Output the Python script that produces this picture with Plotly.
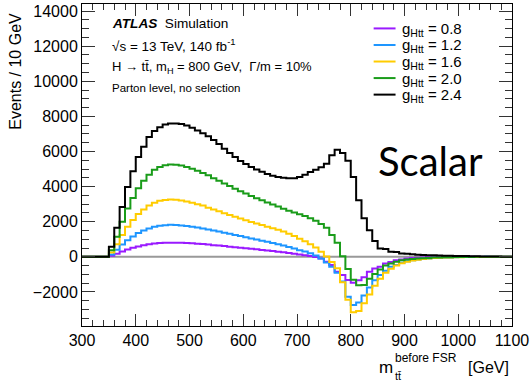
import numpy as np
import plotly.graph_objects as go

# 10 GeV bins from 300 to 1100 GeV (lower edges)
bin_low = list(range(300, 1100, 10))

couplings = ["0.8", "1.2", "1.6", "2.0", "2.4"]
colors = ["#9a1aff", "#1e96ff", "#ffcc00", "#1a9c1a", "#000000"]

events_g08 = [
    0, 0, 0, 0, 0,
    55, 175, 310, 420, 510,
    590, 660, 720, 760, 785,
    800, 805, 805, 800, 790,
    770, 750, 725, 700, 665,
    640, 610, 575, 545, 515,
    485, 455, 425, 395, 365,
    330, 295, 260, 220, 180,
    135, 90, 45, -15, -90,
    -280, -470, -850, -1040, -1320,
    -1480, -1330, -1170, -850, -660,
    -570, -380, -290, -190, -150,
    -90, -70, -55, -40, -30,
    -22, -16, -12, -8, -6,
    -4, -3, -2, -1, 0,
    0, 0, 0, 0, 0,
]
events_g12 = [
    0, 0, 0, 0, 0,
    130, 400, 700, 950, 1160,
    1350, 1500, 1620, 1710, 1770,
    1800, 1820, 1810, 1790, 1760,
    1720, 1670, 1620, 1560, 1500,
    1440, 1375, 1310, 1245, 1180,
    1115, 1050, 985, 920, 855,
    785, 715, 640, 560, 470,
    380, 300, 200, 80, -90,
    -330, -560, -900, -1400, -2270,
    -2750, -2600, -2200, -1750, -1330,
    -1040, -790, -570, -460, -340,
    -250, -190, -150, -115, -90,
    -70, -55, -42, -32, -24,
    -17, -12, -8, -5, -3,
    -2, -1, 0, 0, 0,
]
events_g16 = [
    0, 0, 0, 0, 0,
    240, 720, 1250, 1720, 2100,
    2440, 2700, 2920, 3080, 3190,
    3240, 3260, 3250, 3210, 3150,
    3080, 3000, 2920, 2800, 2700,
    2590, 2480, 2380, 2280, 2180,
    2080, 1990, 1900, 1810, 1720,
    1630, 1540, 1440, 1320, 1180,
    1030, 880, 720, 530, 290,
    20, -300, -650, -1450, -2450,
    -3150, -3080, -2650, -2150, -1650,
    -1250, -900, -680, -500, -370,
    -280, -210, -160, -120, -90,
    -70, -55, -42, -32, -24,
    -18, -13, -9, -6, -4,
    -3, -2, -1, 0, 0,
]
events_g20 = [
    0, 0, 0, 0, 0,
    380, 1150, 2000, 2750, 3350,
    3900, 4330, 4680, 4960, 5110,
    5210, 5260, 5250, 5200, 5120,
    5020, 4900, 4780, 4640, 4480,
    4330, 4180, 4030, 3880, 3740,
    3600, 3470, 3340, 3220, 3100,
    2980, 2860, 2740, 2630, 2520,
    2420, 2320, 2200, 2060, 1870,
    1650, 1250, 800, 30, -700,
    -1300, -1620, -1600, -1250, -980,
    -720, -500, -380, -280, -200,
    -150, -130, -100, -80, -60,
    -45, -35, -25, -18, -12,
    -8, -5, -3, -2, -1,
    0, 0, 0, 0, 0,
]
events_g24 = [
    0, 0, 0, 0, 0,
    570, 1650, 2840, 3980, 4880,
    5680, 6270, 6820, 7170, 7380,
    7530, 7600, 7600, 7570, 7480,
    7350, 7200, 7040, 6870, 6650,
    6420, 6150, 5920, 5680, 5460,
    5280, 5120, 4970, 4840, 4720,
    4620, 4550, 4500, 4470, 4480,
    4550, 4680, 4830, 4960, 5100,
    5300, 5780, 6100, 5920, 5470,
    4550, 3220, 2200, 1520, 900,
    480, 440, 290, 270, 190,
    170, 140, 125, 105, 95,
    85, 75, 65, 55, 50,
    45, 40, 35, 30, 25,
    20, 15, 12, 10, 8,
]
series = [events_g08, events_g12, events_g16, events_g20, events_g24]

# Plot-area geometry in pixels
W, H = 532, 383
L, R, T, B = 82, 18, 3, 57
PW, PH = W - L - R, H - T - B


def px(x):
    return (x - L) / PW


def py(y):
    return 1 - (y - T) / PH


fig = go.Figure()

edges = bin_low + [1100]
for vals, col, g in zip(series, colors, couplings):
    fig.add_trace(go.Scatter(
        x=edges, y=vals + [vals[-1]],
        mode="lines", line=dict(color=col, width=2, shape="hv"),
        name=f"g_Htt = {g}", showlegend=False, hoverinfo="skip",
    ))

# zero reference line
fig.add_shape(type="line", xref="x", yref="y", x0=300, x1=1100, y0=0, y1=0,
              line=dict(color="#999999", width=2), layer="below")

font_main = "Liberation Sans, Arial, Helvetica, sans-serif"

# Legend drawn by hand (line + label)
leg_y0 = 27.5
for i, (col, g) in enumerate(zip(colors, couplings)):
    yy = leg_y0 + i * 16.6
    fig.add_shape(type="line", xref="paper", yref="paper",
                  x0=px(375), x1=px(397), y0=py(yy), y1=py(yy),
                  line=dict(color=col, width=2))
    fig.add_annotation(xref="paper", yref="paper", x=px(401), y=py(yy + 1),
                       xanchor="left", yanchor="middle", showarrow=False,
                       text=f"g<sub>Htt</sub> = {g}",
                       font=dict(family=font_main, size=15, color="black"))

# Header text
fig.add_annotation(xref="paper", yref="paper", x=px(110), y=py(23),
                   xanchor="left", yanchor="middle", showarrow=False,
                   text="<b><i>ATLAS</i></b>  Simulation",
                   font=dict(family=font_main, size=13.6, color="black"))
fig.add_annotation(xref="paper", yref="paper", x=px(110), y=py(44),
                   xanchor="left", yanchor="middle", showarrow=False,
                   text="\u221As = 13 TeV, 140 fb<sup>-1</sup>",
                   font=dict(family=font_main, size=13.5, color="black"))
fig.add_annotation(xref="paper", yref="paper", x=px(110), y=py(67),
                   xanchor="left", yanchor="middle", showarrow=False,
                   text="H \u2192 tt\u0304, m<sub>H</sub> = 800 GeV,  \u0393/m = 10%",
                   font=dict(family=font_main, size=13, color="black"))
fig.add_annotation(xref="paper", yref="paper", x=px(110), y=py(87),
                   xanchor="left", yanchor="middle", showarrow=False,
                   text="Parton level, no selection",
                   font=dict(family=font_main, size=11.5, color="black"))

fig.add_annotation(xref="paper", yref="paper", x=px(377), y=py(160),
                   xanchor="left", yanchor="middle", showarrow=False,
                   text="Scalar",
                   font=dict(family="Lato, Open Sans, sans-serif", size=40, color="black"))

# Axis titles
fig.add_annotation(xref="paper", yref="paper", x=px(15), y=py(10),
                   xanchor="center", yanchor="top", showarrow=False, textangle=-90,
                   text="Events / 10 GeV",
                   font=dict(family=font_main, size=16, color="black"))
fig.add_annotation(xref="paper", yref="paper", x=px(378), y=py(368),
                   xanchor="left", yanchor="middle", showarrow=False,
                   text="m", font=dict(family=font_main, size=17, color="black"))
fig.add_annotation(xref="paper", yref="paper", x=px(394), y=py(358),
                   xanchor="left", yanchor="middle", showarrow=False,
                   text="before FSR", font=dict(family=font_main, size=12, color="black"))
fig.add_annotation(xref="paper", yref="paper", x=px(394), y=py(376),
                   xanchor="left", yanchor="middle", showarrow=False,
                   text="tt\u0304", font=dict(family=font_main, size=11, color="black"))
fig.add_annotation(xref="paper", yref="paper", x=px(513), y=py(368),
                   xanchor="right", yanchor="middle", showarrow=False,
                   text="[GeV]", font=dict(family=font_main, size=16, color="black"))

axis_common = dict(
    showline=True, linecolor="black", linewidth=1, mirror="ticks",
    ticks="inside", tickcolor="#333333", showgrid=False, zeroline=False,
    tickfont=dict(family=font_main, size=16, color="black"),
)
fig.update_xaxes(range=[300, 1100], dtick=100, tick0=300, ticklen=12,
                 minor=dict(ticks="inside", dtick=20, ticklen=6, tickcolor="#333333"),
                 **axis_common)
fig.update_yaxes(range=[-3940, 14400], dtick=2000, tick0=0, ticklen=13,
                 tickformat="d", exponentformat="none",
                 minor=dict(ticks="inside", dtick=500, ticklen=7, tickcolor="#333333"),
                 **axis_common)

fig.update_layout(
    width=W, height=H,
    margin=dict(l=L, r=R, t=T, b=B, pad=0),
    plot_bgcolor="white", paper_bgcolor="white",
    showlegend=False,
)

fig.write_html("out.html")
